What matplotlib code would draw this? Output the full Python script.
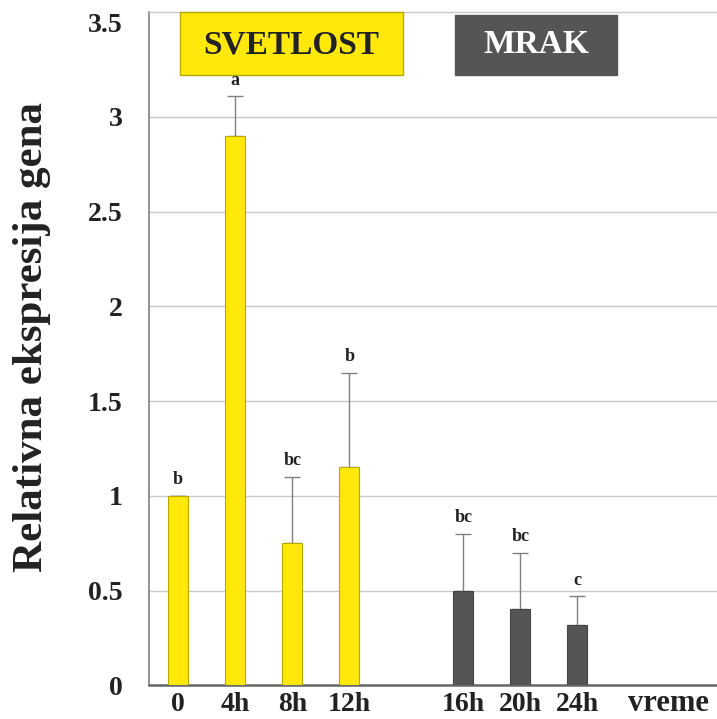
import numpy as np
import matplotlib
matplotlib.use("Agg")
import matplotlib.pyplot as plt
from matplotlib.patches import Rectangle

plt.rcParams['font.family'] = ['Liberation Serif', 'DejaVu Serif']
plt.rcParams['font.weight'] = 'bold'

# podaci
vreme = ['0', '4h', '8h', '12h', '16h', '20h', '24h']
pozicije = [0, 1, 2, 3, 5, 6, 7]
ekspresija = [1.0, 2.90, 0.75, 1.15, 0.50, 0.40, 0.32]
greska = [0.0, 0.21, 0.35, 0.50, 0.30, 0.30, 0.15]
slova = ['b', 'a', 'bc', 'b', 'bc', 'bc', 'c']
faza = ['svetlost'] * 4 + ['mrak'] * 3

zuta = '#FFE80A'
siva = '#555555'
boje = [zuta if f == 'svetlost' else siva for f in faza]
ivice = ['#B8A800' if f == 'svetlost' else '#444444' for f in faza]

fig = plt.figure(figsize=(7.17, 7.19), dpi=100)
ax = fig.add_axes([0.208, 0.047, 0.792, 0.936])

ax.bar(pozicije, ekspresija, width=0.35, color=boje, edgecolor=ivice,
       linewidth=0.8, zorder=3)
ax.errorbar(pozicije, ekspresija, yerr=[np.zeros(len(greska)), greska],
            fmt='none', ecolor='#808080', elinewidth=1, capsize=5.5,
            capthick=1, zorder=2)

for x, y, e, s in zip(pozicije, ekspresija, greska, slova):
    ax.text(x, y + e + 0.04, s, ha='center', va='bottom', fontsize=13,
            fontweight='bold', color='#222222', zorder=6)

ax.set_xlim(-0.51, 9.45)
ax.set_ylim(0, 3.553)
ax.set_yticks(np.arange(0, 3.51, 0.5))
ax.set_yticklabels(['0', '0.5', '1', '1.5', '2', '2.5', '3', '3.5'])
ax.set_xticks(pozicije)
ax.set_xticklabels(vreme)
ax.tick_params(axis='both', length=0, labelsize=20, colors='#222222')
ax.tick_params(axis='y', pad=19)
ax.tick_params(axis='x', pad=5)

ax.yaxis.grid(True, color='#c8c8c8', linewidth=1, zorder=0)
ax.yaxis.get_gridlines()[-1].set_visible(False)
ax.set_axisbelow(True)
ax.spines['right'].set_visible(False)
ax.spines['top'].set_color('#c8c8c8')
ax.spines['top'].set_linewidth(1)
ax.spines['left'].set_color('#808080')
ax.spines['left'].set_linewidth(1.2)
ax.spines['bottom'].set_color('#666666')
ax.spines['bottom'].set_linewidth(1.8)

ax.set_ylabel('Relativna ekspresija gena', fontsize=31, fontweight='bold',
              color='#222222')
ax.yaxis.set_label_coords(-0.172, 0.518)
ax.text(0.915, -0.038, 'vreme', transform=ax.transAxes, ha='center',
        va='baseline', fontsize=22, fontweight='bold', color='#222222')

# legende kao pravougaonici
ax.add_patch(Rectangle((0.035, 3.22), 3.915, 0.333, facecolor=zuta,
                       edgecolor='#B8A800', linewidth=1, clip_on=False,
                       zorder=4))
ax.text(1.99, 3.38, 'SVETLOST', ha='center', va='center', fontsize=24,
        fontweight='bold', color='#222222', zorder=5)
ax.add_patch(Rectangle((4.86, 3.22), 2.84, 0.318, facecolor=siva,
                       edgecolor=siva, linewidth=1, clip_on=False, zorder=4))
ax.text(6.28, 3.38, 'MRAK', ha='center', va='center', fontsize=24,
        fontweight='bold', color='white', zorder=5)

plt.savefig('out.png', dpi=100)
plt.close(fig)
